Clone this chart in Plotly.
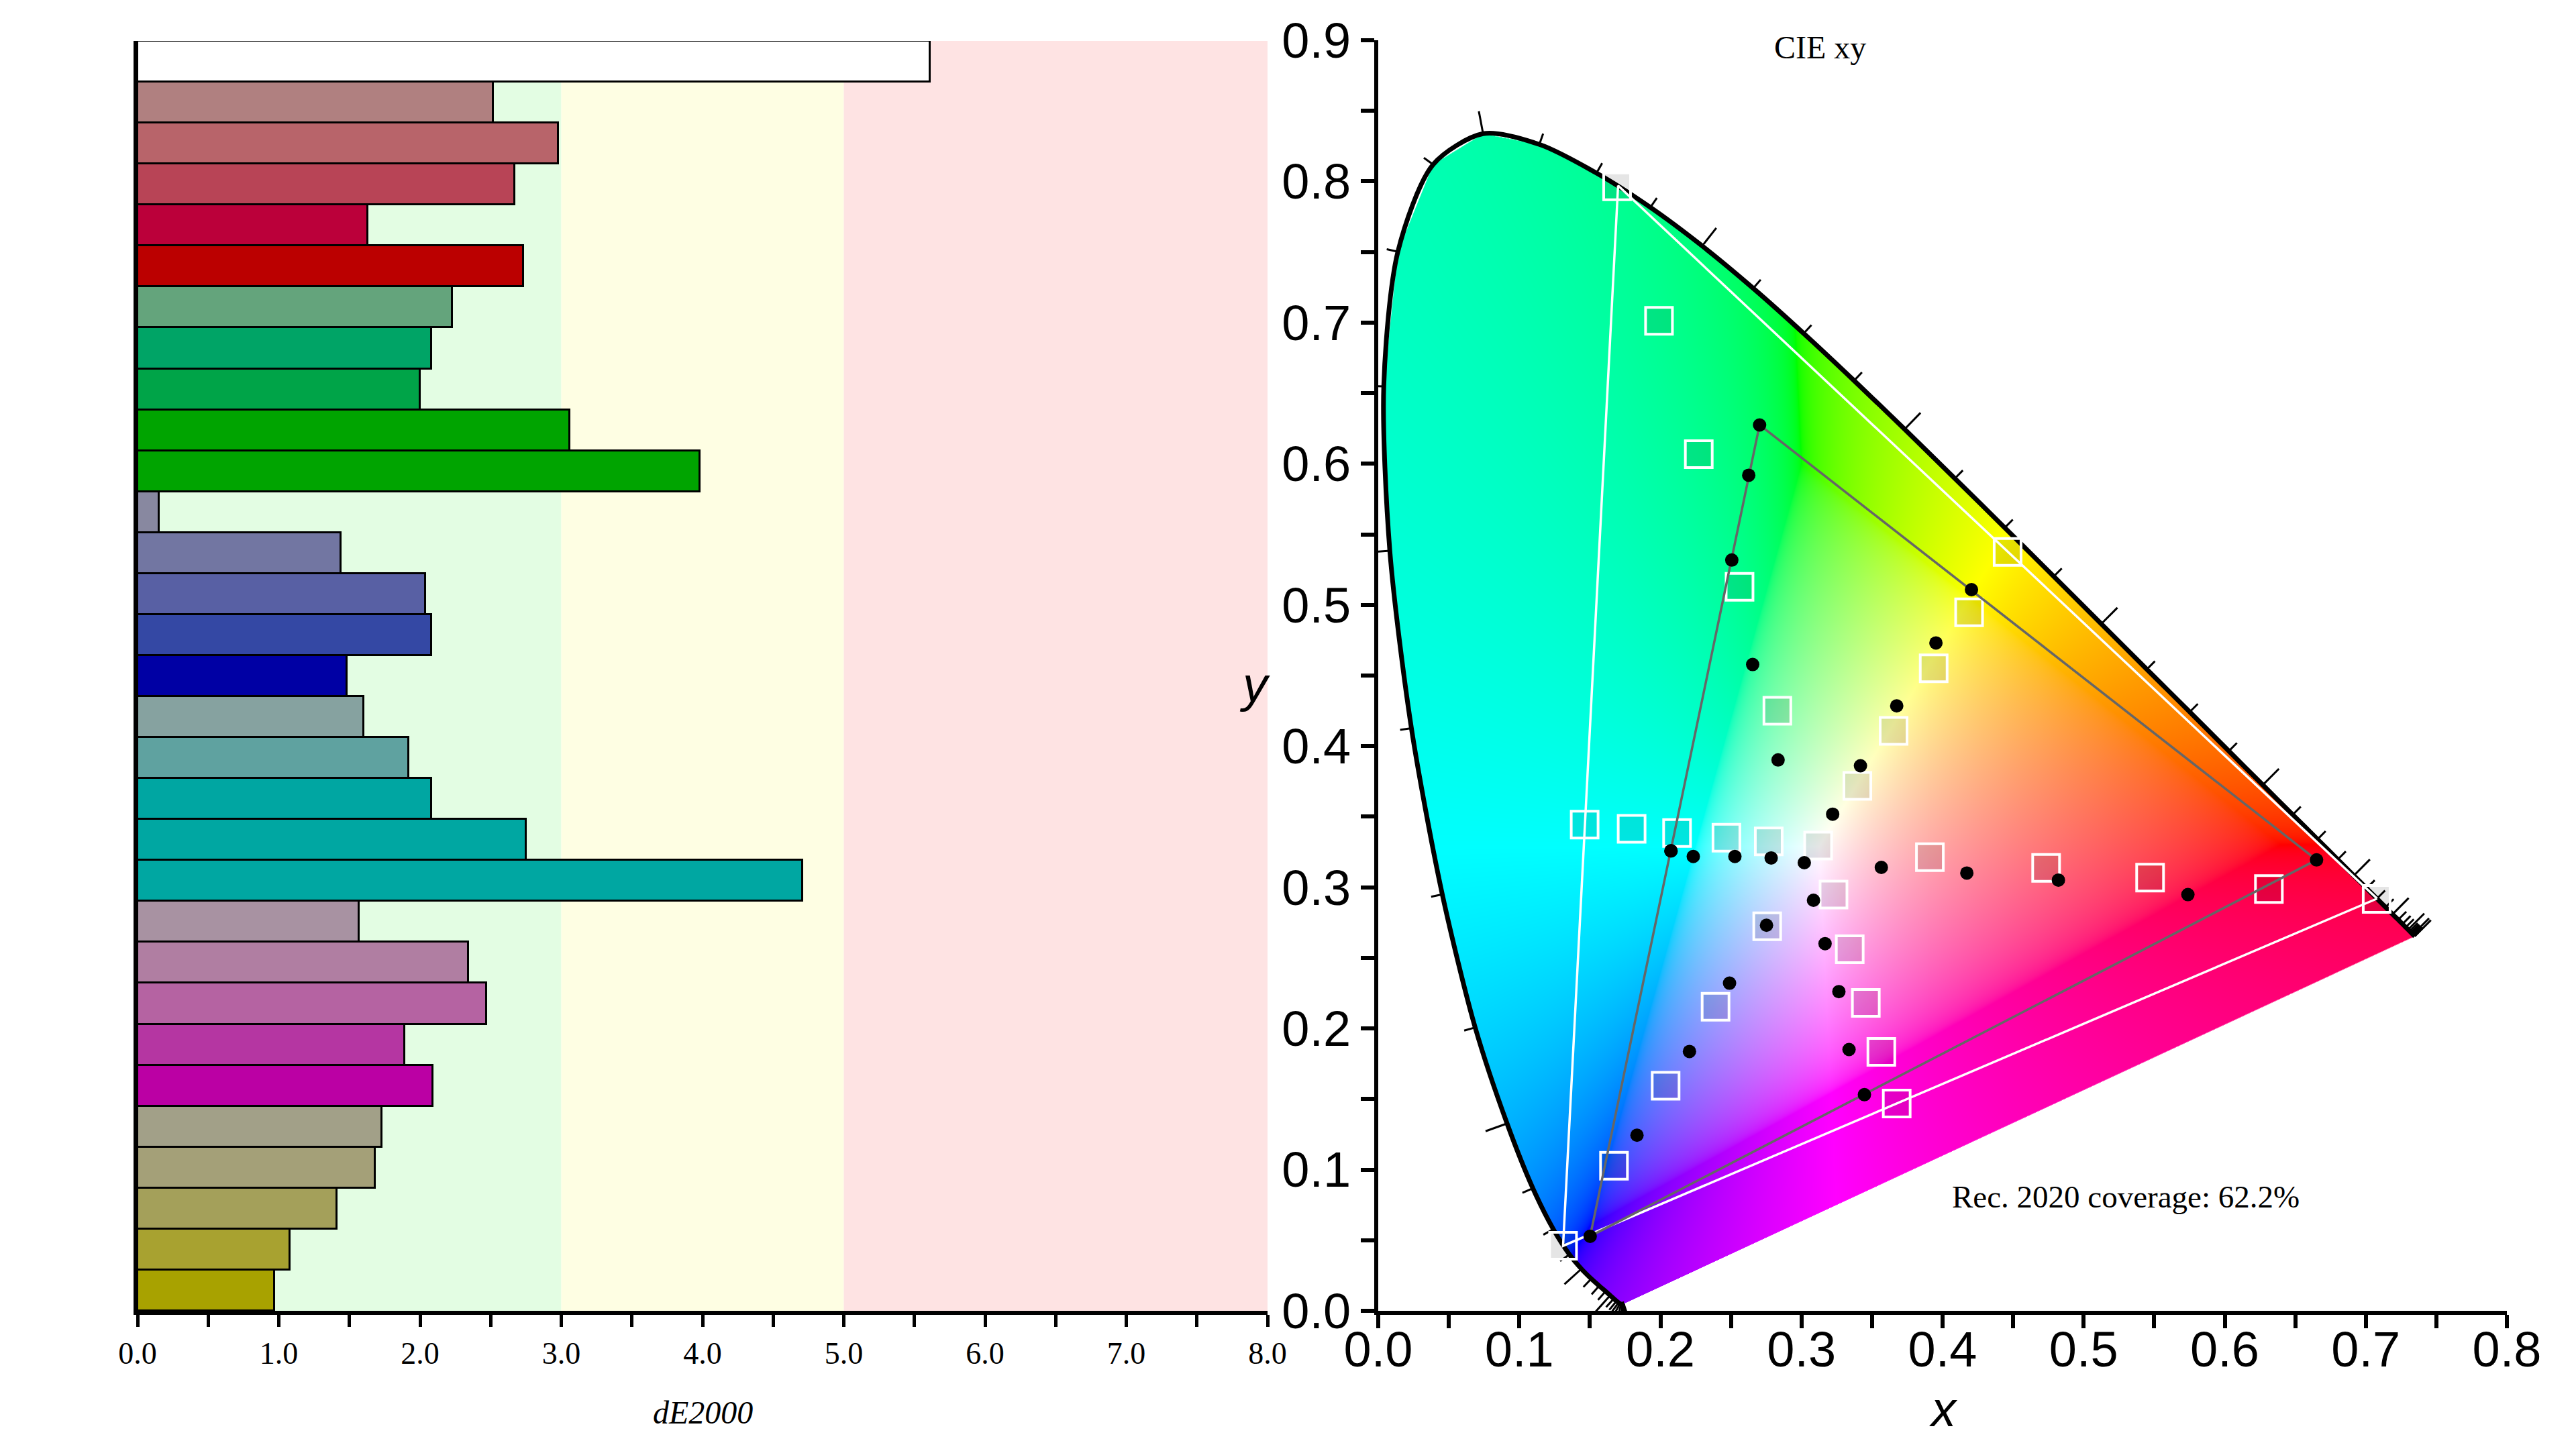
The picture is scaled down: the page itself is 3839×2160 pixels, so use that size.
import numpy as np
import plotly.graph_objects as go
import zlib, struct, base64

FIG_W, FIG_H = 3839, 2160

# ---------------- Bar chart data (dE2000 per patch) ----------------
patch_names = (["White"]
               + [f"Red {i}" for i in range(1, 6)]
               + [f"Green {i}" for i in range(1, 6)]
               + [f"Blue {i}" for i in range(1, 6)]
               + [f"Cyan {i}" for i in range(1, 6)]
               + [f"Magenta {i}" for i in range(1, 6)]
               + [f"Yellow {i}" for i in range(1, 6)])
de2000 = [5.61,
          2.52, 2.98, 2.67, 1.63, 2.73,
          2.23, 2.08, 2.00, 3.06, 3.98,
          0.15, 1.44, 2.04, 2.08, 1.48,
          1.60, 1.92, 2.08, 2.75, 4.71,
          1.57, 2.34, 2.47, 1.89, 2.09,
          1.73, 1.68, 1.41, 1.08, 0.97]
patch_colors = ["#ffffff",
                "#b08080", "#b8646a", "#b84456", "#bb003a", "#bb0000",
                "#64a47c", "#00a466", "#00a448", "#00a400", "#00a400",
                "#8888a0", "#7276a2", "#5860a4", "#3448a4", "#0000a4",
                "#86a2a0", "#5fa2a0", "#00a6a2", "#00a7a2", "#00a7a2",
                "#a892a2", "#b07ea2", "#b563a2", "#b536a2", "#bb00a4",
                "#a2a088", "#a4a078", "#a4a05a", "#a8a230", "#a8a200"]
zone_edges = [0.0, 3.0, 5.0, 8.0]
zone_colors = ["#e3fde3", "#fefee3", "#fee3e3"]

# ---------------- CIE 1931 spectral locus ----------------
wavelengths = list(range(380, 705, 5))
locus_x = [0.1741, 0.1740, 0.1738, 0.1736, 0.1733, 0.1730, 0.1726, 0.1721, 0.1714, 0.1703,
           0.1689, 0.1669, 0.1644, 0.1611, 0.1566, 0.1510, 0.1440, 0.1355, 0.1241, 0.1096,
           0.0913, 0.0687, 0.0454, 0.0235, 0.0082, 0.0039, 0.0139, 0.0389, 0.0743, 0.1142,
           0.1547, 0.1929, 0.2296, 0.2658, 0.3016, 0.3373, 0.3731, 0.4087, 0.4441, 0.4788,
           0.5125, 0.5448, 0.5752, 0.6029, 0.6270, 0.6482, 0.6658, 0.6801, 0.6915, 0.7006,
           0.7079, 0.7140, 0.7190, 0.7230, 0.7260, 0.7283, 0.7300, 0.7311, 0.7320, 0.7327,
           0.7334, 0.7340, 0.7344, 0.7346, 0.7347]
locus_y = [0.0050, 0.0050, 0.0049, 0.0049, 0.0048, 0.0048, 0.0048, 0.0048, 0.0051, 0.0058,
           0.0069, 0.0086, 0.0109, 0.0138, 0.0177, 0.0227, 0.0297, 0.0399, 0.0578, 0.0868,
           0.1327, 0.2007, 0.2950, 0.4127, 0.5384, 0.6548, 0.7502, 0.8120, 0.8338, 0.8262,
           0.8059, 0.7816, 0.7543, 0.7243, 0.6923, 0.6589, 0.6245, 0.5896, 0.5547, 0.5202,
           0.4866, 0.4544, 0.4242, 0.3965, 0.3725, 0.3514, 0.3340, 0.3197, 0.3083, 0.2993,
           0.2920, 0.2859, 0.2809, 0.2770, 0.2740, 0.2717, 0.2700, 0.2689, 0.2680, 0.2673,
           0.2666, 0.2660, 0.2656, 0.2654, 0.2653]

# Rec. 2020 primaries (R, G, B)
rec2020_x = [0.708, 0.170, 0.131]
rec2020_y = [0.292, 0.797, 0.046]
# Measured display primaries (R, G, B)
display_x = [0.6651, 0.2703, 0.1502]
display_y = [0.3194, 0.6275, 0.0528]

# Target chromaticities (squares), same order as bars
target_x = [0.3118,
            0.3910, 0.4734, 0.5471, 0.6313, 0.7077,
            0.2829, 0.2561, 0.2272, 0.1990, 0.1693,
            0.2757, 0.2391, 0.2037, 0.1671, 0.1310,
            0.2768, 0.2468, 0.2118, 0.1796, 0.1463,
            0.3227, 0.3342, 0.3456, 0.3566, 0.3675,
            0.3396, 0.3653, 0.3937, 0.4188, 0.4461]
target_y = [0.3295,
            0.3214, 0.3138, 0.3068, 0.2988, 0.2918,
            0.4251, 0.5128, 0.6068, 0.7012, 0.7965,
            0.2724, 0.2154, 0.1594, 0.1028, 0.0461,
            0.3325, 0.3351, 0.3385, 0.3414, 0.3444,
            0.2948, 0.2561, 0.2181, 0.1834, 0.1468,
            0.3718, 0.4108, 0.4551, 0.4948, 0.5375]
# Measured chromaticities (dots)
measured_x = [0.3020,
              0.3566, 0.4172, 0.4821, 0.5739, 0.6651,
              0.2834, 0.2654, 0.2506, 0.2626, 0.2703,
              0.2752, 0.2490, 0.2206, 0.1834, 0.1502,
              0.2785, 0.2528, 0.2233, 0.2075, 0.2075,
              0.3085, 0.3167, 0.3265, 0.3337, 0.3446,
              0.3221, 0.3418, 0.3675, 0.3953, 0.4205]
measured_y = [0.3174,
              0.3141, 0.3101, 0.3051, 0.2948, 0.3194,
              0.3902, 0.4578, 0.5318, 0.5919, 0.6275,
              0.2731, 0.2321, 0.1837, 0.1244, 0.0528,
              0.3208, 0.3218, 0.3218, 0.3258, 0.3258,
              0.2908, 0.2601, 0.2261, 0.1851, 0.1531,
              0.3518, 0.3861, 0.4285, 0.4731, 0.5108]
coverage_text = "Rec. 2020 coverage: 62.2%"

# ---------------- layout geometry (pixels) ----------------
BAR_L, BAR_R = 205, 1889
CIE_L, CIE_R = 2054, 3736
PLOT_BOTTOM = 1954
BAR_TOP, CIE_TOP = 61, 60
CIE_XR, CIE_YR = (0.0, 0.8), (0.0, 0.9)
px_per_unit = (CIE_R - CIE_L) / (CIE_XR[1] - CIE_XR[0])

# ---------------- chromaticity background image ----------------
IMG_X0, IMG_X1, IMG_Y0, IMG_Y1 = 0.0, 0.75, 0.0, 0.85
IW = int(round((IMG_X1 - IMG_X0) * px_per_unit))
IH = int(round((IMG_Y1 - IMG_Y0) * px_per_unit))
xs = (IMG_X0 + (np.arange(IW) + 0.5) * (IMG_X1 - IMG_X0) / IW).astype(np.float32)
ys = (IMG_Y1 - (np.arange(IH) + 0.5) * (IMG_Y1 - IMG_Y0) / IH).astype(np.float32)
XX, YY = np.meshgrid(xs, ys)
M = np.array([[3.2406, -1.5372, -0.4986],
              [-0.9689, 1.8758, 0.0415],
              [0.0557, -0.2040, 1.0570]], dtype=np.float32)
Xc = XX / YY
Zc = (1.0 - XX - YY) / YY
lin = np.stack([Xc, np.ones_like(Xc), Zc], axis=-1) @ M.T
del Xc, Zc
mn = lin.min(axis=-1, keepdims=True)
lin = np.where(mn < 0, lin - mn, lin)
lin = lin / lin.max(axis=-1, keepdims=True)
lin = np.clip(lin, 0, 1)
srgb = np.where(lin <= 0.0031308, 12.92 * lin, 1.055 * np.power(lin, 1 / 2.4) - 0.055)
del lin

lx = np.array(locus_x)
ly = np.array(locus_y)
px_ = np.append(lx, lx[0])
py_ = np.append(ly, ly[0])
xl = np.full(IH, np.inf)
xr = np.full(IH, -np.inf)
for k in range(len(px_) - 1):
    x0, y0, x1, y1 = px_[k], py_[k], px_[k + 1], py_[k + 1]
    if y0 == y1:
        continue
    lo, hi = min(y0, y1), max(y0, y1)
    sel = (ys >= lo) & (ys <= hi)
    xi = x0 + (ys[sel] - y0) * (x1 - x0) / (y1 - y0)
    xl[sel] = np.minimum(xl[sel], xi)
    xr[sel] = np.maximum(xr[sel], xi)
sc = IW / (IMG_X1 - IMG_X0)
with np.errstate(invalid="ignore"):
    alpha = (np.clip((XX - xl[:, None]) * sc + 0.5, 0, 1)
             * np.clip((xr[:, None] - XX) * sc + 0.5, 0, 1))
alpha = np.nan_to_num(alpha)
rgba = np.concatenate([srgb, alpha[..., None]], axis=-1)
rgba = np.clip(np.round(rgba * 255), 0, 255).astype(np.uint8)


def png_data_uri(img):
    h, w, _ = img.shape
    a = img.reshape(h, w * 4).astype(np.int16)
    f = a.copy()
    f[:, 4:] = a[:, 4:] - a[:, :-4]
    f = (f % 256).astype(np.uint8)
    raw = np.hstack([np.ones((h, 1), np.uint8), f]).tobytes()

    def chunk(t, d):
        c = struct.pack(">I", len(d)) + t + d
        return c + struct.pack(">I", zlib.crc32(t + d) & 0xFFFFFFFF)

    png = (b"\x89PNG\r\n\x1a\n"
           + chunk(b"IHDR", struct.pack(">IIBBBBB", w, h, 8, 6, 0, 0, 0))
           + chunk(b"IDAT", zlib.compress(raw, 6))
           + chunk(b"IEND", b""))
    return "data:image/png;base64," + base64.b64encode(png).decode()


img_uri = png_data_uri(rgba)

# ---------------- locus wavelength ticks ----------------
short_len = 17 / px_per_unit
long_len = 34 / px_per_unit
cx, cy = 0.33, 0.33
tick_x, tick_y = [], []
n = len(lx)
for i, wl in enumerate(wavelengths):
    i0, i1 = max(i - 1, 0), min(i + 1, n - 1)
    tx, ty = lx[i1] - lx[i0], ly[i1] - ly[i0]
    nx_, ny_ = ty, -tx
    nrm = np.hypot(nx_, ny_)
    if nrm == 0:
        continue
    nx_, ny_ = nx_ / nrm, ny_ / nrm
    if nx_ * (lx[i] - cx) + ny_ * (ly[i] - cy) < 0:
        nx_, ny_ = -nx_, -ny_
    L = long_len if wl % 20 == 0 else short_len
    tick_x += [lx[i], lx[i] + nx_ * L, None]
    tick_y += [ly[i], ly[i] + ny_ * L, None]

# ---------------- figure ----------------
fig = go.Figure()

fig.add_trace(go.Bar(
    x=de2000, y=patch_names, orientation="h", width=1,
    marker=dict(color=patch_colors, line=dict(color="black", width=3)),
    xaxis="x", yaxis="y", hoverinfo="x+y"))

fig.add_trace(go.Scatter(
    x=locus_x, y=locus_y, mode="lines",
    line=dict(color="black", width=7, shape="spline", smoothing=0.8),
    xaxis="x2", yaxis="y2", hoverinfo="skip"))
fig.add_trace(go.Scatter(
    x=tick_x, y=tick_y, mode="lines", line=dict(color="black", width=3),
    xaxis="x2", yaxis="y2", hoverinfo="skip"))
fig.add_trace(go.Scatter(
    x=target_x, y=target_y, mode="markers",
    marker=dict(symbol="square", size=40, color="rgba(0,0,0,0.1)",
                line=dict(color="white", width=4)),
    xaxis="x2", yaxis="y2"))
fig.add_trace(go.Scatter(
    x=rec2020_x + rec2020_x[:1], y=rec2020_y + rec2020_y[:1], mode="lines",
    line=dict(color="white", width=3.5), xaxis="x2", yaxis="y2", hoverinfo="skip"))
fig.add_trace(go.Scatter(
    x=display_x + display_x[:1], y=display_y + display_y[:1], mode="lines",
    line=dict(color="#666666", width=3.5), xaxis="x2", yaxis="y2", hoverinfo="skip"))
fig.add_trace(go.Scatter(
    x=measured_x, y=measured_y, mode="markers",
    marker=dict(symbol="circle", size=20, color="black"),
    xaxis="x2", yaxis="y2"))

shapes = []
for k, col in enumerate(zone_colors):
    shapes.append(dict(type="rect", xref="x", yref="y domain",
                       x0=zone_edges[k], x1=zone_edges[k + 1], y0=0, y1=1,
                       fillcolor=col, line=dict(width=0), layer="below"))

serif = "Liberation Serif"
sans = "Liberation Sans"


def ann(text, px, py, size, family):
    return dict(text=text, x=px / FIG_W, y=1 - py / FIG_H, xref="paper", yref="paper",
                showarrow=False, xanchor="center", yanchor="middle",
                font=dict(size=size, family=family, color="black"))


annotations = [
    ann("<i>dE2000</i>", 1047, 2105, 48, serif),
    ann("CIE xy", 2712, 70, 48, serif),
    ann(coverage_text, 3168, 1784, 47, serif),
    ann("<i>x</i>", 2896, 2100, 74, sans),
    ann("<i>y</i>", 1870, 1020, 74, sans),
]

ydom_bar = [(FIG_H - PLOT_BOTTOM) / FIG_H, (FIG_H - BAR_TOP) / FIG_H]
ydom_cie = [(FIG_H - PLOT_BOTTOM) / FIG_H, (FIG_H - CIE_TOP) / FIG_H]

fig.update_layout(
    width=FIG_W, height=FIG_H,
    margin=dict(l=0, r=0, t=0, b=0, autoexpand=False),
    paper_bgcolor="white", plot_bgcolor="rgba(0,0,0,0)",
    showlegend=False, bargap=0,
    shapes=shapes, annotations=annotations,
    images=[dict(source=img_uri, xref="x2", yref="y2", x=IMG_X0, y=IMG_Y1,
                 sizex=IMG_X1 - IMG_X0, sizey=IMG_Y1 - IMG_Y0,
                 xanchor="left", yanchor="top", sizing="stretch", layer="below")],
    xaxis=dict(domain=[BAR_L / FIG_W, BAR_R / FIG_W], anchor="y", range=zone_edges[::3],
               automargin=False,
               showline=True, linewidth=6, linecolor="black", mirror=False,
               ticks="outside", ticklen=18, tickwidth=5, tickcolor="black",
               dtick=1, tick0=0, tickformat=".1f",
               minor=dict(ticks="outside", dtick=0.5, tick0=0, ticklen=18, tickwidth=5,
                          tickcolor="black"),
               tickfont=dict(family=serif, size=46, color="black"),
               showgrid=False, zeroline=False),
    yaxis=dict(domain=ydom_bar, anchor="x", autorange="reversed", automargin=False,
               showline=True, linewidth=6, linecolor="black",
               ticks="", showticklabels=False, showgrid=False, zeroline=False),
    xaxis2=dict(domain=[CIE_L / FIG_W, CIE_R / FIG_W], anchor="y2", range=list(CIE_XR),
                automargin=False,
                showline=True, linewidth=6, linecolor="black",
                ticks="outside", ticklen=20, tickwidth=6, tickcolor="black",
                dtick=0.1, tick0=0, tickformat=".1f", ticklabelstandoff=-32,
                minor=dict(ticks="outside", dtick=0.05, tick0=0, ticklen=20, tickwidth=6,
                           tickcolor="black"),
                tickfont=dict(family=sans, size=74, color="black"),
                showgrid=False, zeroline=False),
    yaxis2=dict(domain=ydom_cie, anchor="x2", range=list(CIE_YR), automargin=False,
                showline=True, linewidth=6, linecolor="black",
                ticks="outside", ticklen=20, tickwidth=6, tickcolor="black",
                dtick=0.1, tick0=0, tickformat=".1f",
                minor=dict(ticks="outside", dtick=0.05, tick0=0, ticklen=20, tickwidth=6,
                           tickcolor="black"),
                tickfont=dict(family=sans, size=74, color="black"),
                showgrid=False, zeroline=False),
)

fig.write_html("out.html")
